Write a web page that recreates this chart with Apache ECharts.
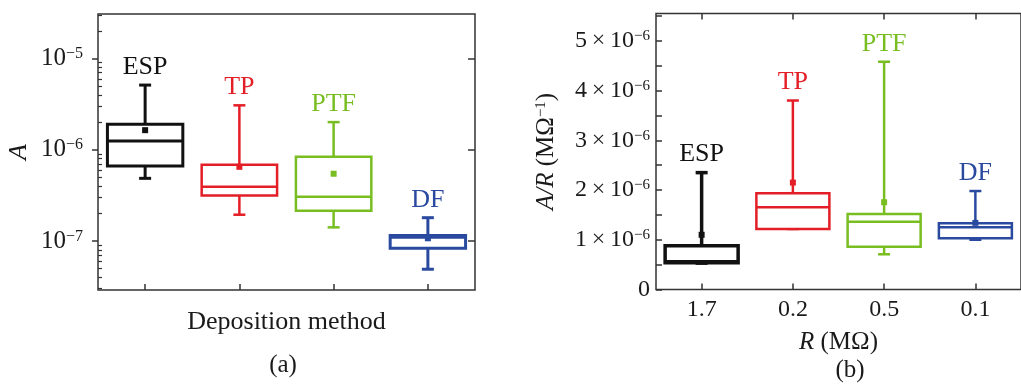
<!DOCTYPE html>
<html><head><meta charset="utf-8">
<script src="https://cdn.jsdelivr.net/npm/echarts@6/dist/echarts.min.js"></script>
<style>html,body{margin:0;padding:0;background:#fff}#c{width:1021px;height:386px}</style>
</head><body><div id="c"></div>
<script>
// ---------- data ----------
const categories = ['ESP', 'TP', 'PTF', 'DF'];
const resistanceLabels = ['1.7', '0.2', '0.5', '0.1'];

// panel (a): A (log scale)
const aLow  = [4.86e-7, 1.94e-7, 1.41e-7, 4.9e-8];
const aQ1   = [6.63e-7, 3.16e-7, 2.14e-7, 8.3e-8];
const aMed  = [1.245e-6, 3.93e-7, 3.05e-7, 1.1e-7];
const aQ3   = [1.91e-6, 6.85e-7, 8.38e-7, 1.15e-7];
const aHigh = [5.12e-6, 3.07e-6, 2.01e-6, 1.8e-7];
const aMean = [1.64e-6, 6.5e-7, 5.46e-7, 1.07e-7];
const aMajorTicks = [1e-7, 1e-6, 1e-5];
const aMinorTicks = [3e-8, 4e-8, 5e-8, 6e-8, 7e-8, 8e-8, 9e-8,
  2e-7, 3e-7, 4e-7, 5e-7, 6e-7, 7e-7, 8e-7, 9e-7,
  2e-6, 3e-6, 4e-6, 5e-6, 6e-6, 7e-6, 8e-6, 9e-6,
  2e-5, 3e-5];

// panel (b): A/R (MΩ^-1)
const bLow  = [0.53e-6, 1.217e-6, 0.708e-6, 1.0e-6];
const bQ1   = [0.54e-6, 1.217e-6, 0.861e-6, 1.03e-6];
const bMed  = [0.56e-6, 1.654e-6, 1.364e-6, 1.25e-6];
const bQ3   = [0.88e-6, 1.935e-6, 1.519e-6, 1.33e-6];
const bHigh = [2.35e-6, 3.80e-6, 4.58e-6, 1.98e-6];
const bMean = [1.10e-6, 2.15e-6, 1.755e-6, 1.34e-6];
const bLabelTicks = [0, 1e-6, 2e-6, 3e-6, 4e-6, 5e-6];
const bTicks = [0, 0.5e-6, 1e-6, 1.5e-6, 2e-6, 2.5e-6, 3e-6, 3.5e-6, 4e-6, 4.5e-6, 5e-6, 5.5e-6];

// ---------- styles ----------
const colors = ['#111111', '#e41e26', '#78be21', '#2a4aa0'];
const FONT = '"Liberation Serif", "Times New Roman", serif';
const TXT = '#1a1a1a';
const AX = '#333333';

function rows(lo, q1, md, q3, hi, mn) {
  return categories.map((c, i) => [i, lo[i], q1[i], md[i], q3[i], hi[i], mn[i]]);
}

function makeRender(lineWidths) {
  return function (params, api) {
    const i = api.value(0);
    const cs = params.coordSys;
    const bw = cs.width / categories.length * 0.8;
    const pLow = api.coord([i, api.value(1)]);
    const pQ1 = api.coord([i, api.value(2)]);
    const pMed = api.coord([i, api.value(3)]);
    const pQ3 = api.coord([i, api.value(4)]);
    const pHigh = api.coord([i, api.value(5)]);
    const pMean = api.coord([i, api.value(6)]);
    const x = pQ1[0];
    const c = colors[i];
    const lw = lineWidths[i];
    const cap = 6;
    const st = { stroke: c, lineWidth: lw, fill: null };
    return {
      type: 'group',
      children: [
        { type: 'line', shape: { x1: x, y1: pQ3[1], x2: x, y2: pHigh[1] }, style: st },
        { type: 'line', shape: { x1: x, y1: pQ1[1], x2: x, y2: pLow[1] }, style: st },
        { type: 'line', shape: { x1: x - cap, y1: pHigh[1], x2: x + cap, y2: pHigh[1] }, style: st },
        { type: 'line', shape: { x1: x - cap, y1: pLow[1], x2: x + cap, y2: pLow[1] }, style: st },
        { type: 'rect', shape: { x: x - bw / 2, y: pQ3[1], width: bw, height: pQ1[1] - pQ3[1] }, style: { stroke: c, lineWidth: lw, fill: '#fff' } },
        { type: 'line', shape: { x1: x - bw / 2, y1: pMed[1], x2: x + bw / 2, y2: pMed[1] }, style: st },
        { type: 'rect', shape: { x: pMean[0] - 3, y: pMean[1] - 3, width: 6, height: 6 }, style: { fill: c } },
        { type: 'text', x: x, y: pHigh[1] - 18, style: { text: categories[i], fill: c, font: '26px ' + FONT, align: 'center', verticalAlign: 'middle' } }
      ]
    };
  };
}

const supRichA = {
  b: { fontSize: 25, fontFamily: FONT, color: TXT },
  s: { fontSize: 16, fontFamily: FONT, color: TXT, verticalAlign: 'top' }
};
const supRichB = {
  b: { fontSize: 24, fontFamily: FONT, color: TXT },
  s: { fontSize: 15, fontFamily: FONT, color: TXT, verticalAlign: 'top' }
};

const chart = echarts.init(document.getElementById('c'), null, { renderer: 'canvas' });
chart.setOption({
  backgroundColor: '#fff',
  animation: false,
  grid: [
    { left: 98, top: 14, width: 377, height: 276, show: true, borderColor: AX, borderWidth: 1.5, backgroundColor: 'transparent' },
    { left: 656, top: 13.5, width: 375, height: 276, show: true, borderColor: AX, borderWidth: 1.5, backgroundColor: 'transparent' }
  ],
  xAxis: [
    {
      gridIndex: 0, type: 'category', data: categories, position: 'bottom',
      axisLine: { show: false },
      axisTick: { show: true, inside: true, alignWithLabel: true, length: 6, lineStyle: { color: AX, width: 1.5 } },
      axisLabel: { show: false },
      name: 'Deposition method', nameLocation: 'middle', nameGap: 19,
      nameTextStyle: { fontFamily: FONT, fontSize: 26, color: TXT }
    },
    {
      gridIndex: 1, type: 'category', data: resistanceLabels, position: 'bottom',
      axisLine: { show: false },
      axisTick: { show: true, inside: true, alignWithLabel: true, length: 6, lineStyle: { color: AX, width: 1.5 } },
      axisLabel: { show: true, fontFamily: FONT, fontSize: 24, color: TXT, margin: 8 },
      name: '{i|R} {n|(MΩ)}', nameLocation: 'middle', nameGap: 40,
      nameTextStyle: { fontFamily: FONT, fontSize: 25, color: TXT,
        rich: { i: { fontFamily: FONT, fontSize: 25, fontStyle: 'italic', color: TXT }, n: { fontFamily: FONT, fontSize: 25, color: TXT } } }
    },
    {
      gridIndex: 1, type: 'category', data: resistanceLabels, position: 'top',
      axisLine: { show: false },
      axisTick: { show: true, inside: true, alignWithLabel: true, length: 6, lineStyle: { color: AX, width: 1.5 } },
      axisLabel: { show: false }
    }
  ],
  yAxis: [
    {
      gridIndex: 0, type: 'log', logBase: 10, min: 2.9e-8, max: 3.08e-5, position: 'left',
      axisLine: { show: false }, splitLine: { show: false },
      axisTick: { show: true, inside: false, length: 6, customValues: aMajorTicks, lineStyle: { color: AX, width: 1.5 } },
      axisLabel: {
        customValues: aMajorTicks, margin: 15, fontFamily: FONT, fontSize: 25, color: TXT,
        formatter: v => '{b|10}{s|−' + (-Math.round(Math.log10(v))) + '}', rich: supRichA
      },
      name: 'A', nameLocation: 'middle', nameGap: 66,
      nameTextStyle: { fontFamily: FONT, fontSize: 26, fontStyle: 'italic', color: TXT }
    },
    {
      gridIndex: 0, type: 'log', logBase: 10, min: 2.9e-8, max: 3.08e-5, position: 'left',
      axisLine: { show: false }, splitLine: { show: false },
      axisTick: { show: true, inside: true, length: 4, customValues: aMinorTicks, lineStyle: { color: AX, width: 1.2 } },
      axisLabel: { show: false }
    },
    {
      gridIndex: 0, type: 'log', logBase: 10, min: 2.9e-8, max: 3.08e-5, position: 'right',
      axisLine: { show: false }, splitLine: { show: false },
      axisTick: { show: true, inside: true, length: 7, customValues: aMajorTicks, lineStyle: { color: AX, width: 1.5 } },
      axisLabel: { show: false }
    },
    {
      gridIndex: 1, type: 'value', min: 0, max: 5.55e-6, position: 'left',
      axisLine: { show: false }, splitLine: { show: false },
      axisTick: { show: true, inside: true, length: 6, customValues: bTicks, lineStyle: { color: AX, width: 1.5 } },
      axisLabel: {
        customValues: bLabelTicks, margin: 6, fontFamily: FONT, fontSize: 24, color: TXT,
        formatter: v => v === 0 ? '{b|0}' : '{b|' + Math.round(v / 1e-6) + '\u2009×\u200910}{s|−6}', rich: supRichB
      },
      name: '{i|A/R} {n|(MΩ}{s|−1}{n|)}', nameLocation: 'middle', nameGap: 97,
      nameTextStyle: { fontFamily: FONT, fontSize: 25, color: TXT,
        rich: {
          i: { fontFamily: FONT, fontSize: 25, fontStyle: 'italic', color: TXT },
          n: { fontFamily: FONT, fontSize: 25, color: TXT },
          s: { fontFamily: FONT, fontSize: 15, color: TXT, verticalAlign: 'top' }
        } }
    }
  ],
  graphic: [
    { type: 'text', x: 283, y: 365, style: { text: '(a)', font: '25px ' + FONT, fill: TXT, align: 'center', verticalAlign: 'middle' } },
    { type: 'text', x: 850, y: 370, style: { text: '(b)', font: '25px ' + FONT, fill: TXT, align: 'center', verticalAlign: 'middle' } }
  ],
  series: [
    {
      type: 'custom', xAxisIndex: 0, yAxisIndex: 0,
      renderItem: makeRender([3, 2.5, 2.5, 3]),
      encode: { x: 0, y: [1, 5] },
      data: rows(aLow, aQ1, aMed, aQ3, aHigh, aMean)
    },
    {
      type: 'custom', xAxisIndex: 1, yAxisIndex: 3,
      renderItem: makeRender([3.5, 2.5, 2.5, 2.5]),
      encode: { x: 0, y: [1, 5] },
      data: rows(bLow, bQ1, bMed, bQ3, bHigh, bMean)
    }
  ]
});
</script>
</body></html>
